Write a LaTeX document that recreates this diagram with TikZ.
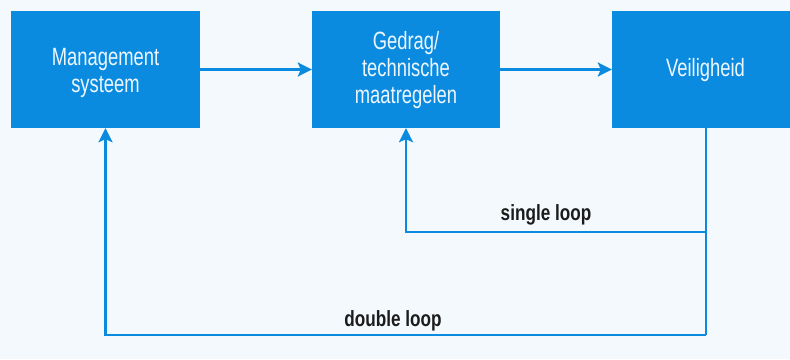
\documentclass[tikz,border=0pt]{standalone}
\usepackage{fontspec}
\setmainfont{Liberation Sans}[FakeStretch=0.735]
\newfontfamily\lblfont{Liberation Sans}[FakeStretch=0.78]
\usetikzlibrary{arrows.meta}
\definecolor{boxblue}{HTML}{0B8BE0}
\definecolor{bgblue}{HTML}{F3F9FD}
\definecolor{boxtext}{HTML}{EEF7FF}
\definecolor{lbltext}{HTML}{1C1C1C}
\tikzset{
  blockbox/.style={fill=boxblue, draw=none, minimum height=117pt, inner sep=0pt},
  blocktext/.style={align=center, text=boxtext, inner sep=0pt,
    font=\fontsize{25}{27}\selectfont},
  flow/.style={draw=boxblue, line width=2.6pt, line join=miter,
    -{Stealth[length=14pt,width=14pt,inset=3pt]}},
  plain/.style={draw=boxblue, line width=2.6pt, line join=miter},
  looplabel/.style={text=lbltext, anchor=base, inner sep=0pt,
    font=\lblfont\bfseries\fontsize{22}{24}\selectfont}
}
\begin{document}
\begin{tikzpicture}[x=1pt, y=-1pt]
\fill[bgblue] (0,0) rectangle (790,359);
\useasboundingbox (0,0) rectangle (790,359);
\node[blockbox, minimum width=189pt] (mgmt) at (105.5,69.5) {};
\node[blockbox, minimum width=188pt] (gedrag) at (406,69.5) {};
\node[blockbox, minimum width=188pt] (veilig) at (706,69.5) {};
\node[blocktext] (mgmttext) at (105.5,72.5) {Management\\systeem};
\node[blocktext] (gedragtext) at (406,70.5) {Gedrag/\\technische\\maatregelen};
\node[blocktext] (veiligtext) at (705.5,70) {Veiligheid};
\coordinate (s1) at (706,232);
\coordinate (s2) at (406,232);
\coordinate (d1) at (706,335);
\coordinate (d2) at (105.5,335);
\draw[flow] (mgmt) -- (gedrag);
\draw[flow] (gedrag) -- (veilig);
\draw[plain] (veilig.south) -- (d1);
\draw[flow] (s1) -- (s2) -- (gedrag.south);
\draw[flow] (d1) -- (d2) -- (mgmt.south);
\node[looplabel] (single) at (546,220) {single loop};
\node[looplabel] (double) at (393,326) {double loop};
\end{tikzpicture}
\end{document}
